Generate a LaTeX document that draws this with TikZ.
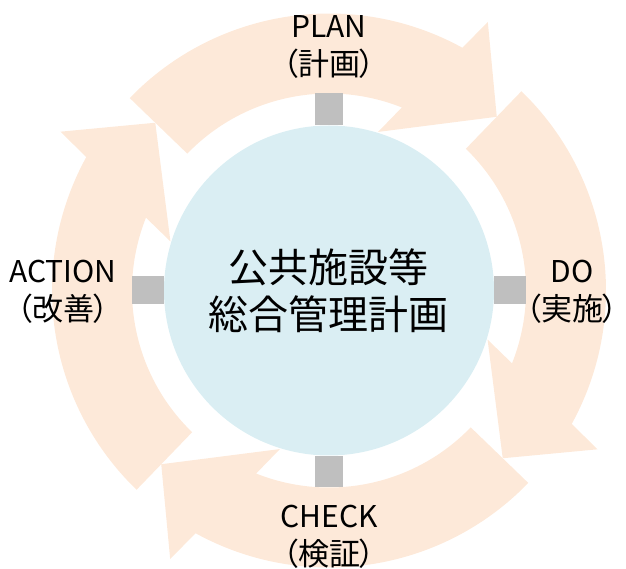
\documentclass[tikz,border=0pt]{standalone}
\usepackage{fontspec}
\setmainfont{Noto Sans CJK JP}
\newfontfamily\jpprop[RawFeature=+palt]{Noto Sans CJK JP}
\definecolor{peach}{HTML}{FDE9D9}
\definecolor{circfill}{HTML}{DAEEF3}
\definecolor{barcol}{HTML}{BFBFBF}
\newcommand{\jpline}[1]{{\jpprop\fontsize{31}{38}\selectfont#1}}
\begin{document}
\begin{tikzpicture}[x=1pt,y=1pt,
  arrowband/.style={fill=peach},
  barline/.style={draw=barcol, line width=28pt},
  lbl/.style={align=center, font=\fontsize{30}{38}\selectfont, inner sep=0pt},
  hub/.style={circle, fill=circfill, minimum size=330pt, inner sep=0pt, align=center, font=\fontsize{40}{47}\selectfont}
]
\useasboundingbox (-329,-278.5) rectangle (297,290.5);
\foreach \a in {0,90,180,270}{
  \fill[arrowband] ({136-\a}:277pt) arc[start angle={136-\a}, end angle={61.2-\a}, radius=277pt]
    -- ({59.4-\a}:312pt) -- ({46-\a}:241.5pt) -- ({72.8-\a}:166pt) -- ({68.3-\a}:197pt)
    arc[start angle={68.3-\a}, end angle={136-\a}, radius=197pt] -- cycle;
}
\node[hub] (ctr) at (0,0) {公共施設等\\総合管理計画};
\coordinate (bN) at (90:197pt);
\coordinate (bE) at (0:197pt);
\coordinate (bS) at (-90:197pt);
\coordinate (bW) at (180:197pt);
\draw[barline] (ctr.north) -- (bN);
\draw[barline] (ctr.east) -- (bE);
\draw[barline] (ctr.south) -- (bS);
\draw[barline] (ctr.west) -- (bW);
\node[lbl] (plan) at (0,243.5) {PLAN\\\jpline{（計画）}};
\node[lbl] (do) at (243,-1) {DO\\\jpline{（実施）}};
\node[lbl] (check) at (0,-246) {CHECK\\\jpline{（検証）}};
\node[lbl] (action) at (-266,-1) {ACTION\\\jpline{（改善）}};
\end{tikzpicture}
\end{document}
